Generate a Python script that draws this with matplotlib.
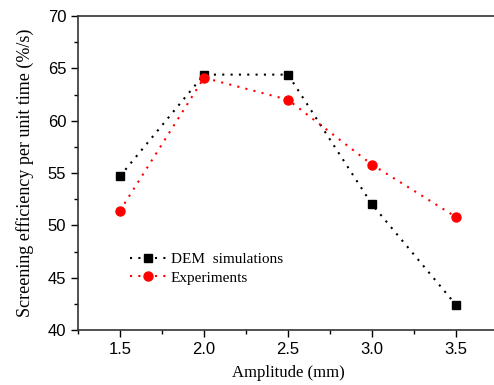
import matplotlib
matplotlib.use("Agg")
import matplotlib.pyplot as plt
from matplotlib.ticker import MultipleLocator

amplitude = [1.5, 2.0, 2.5, 3.0, 3.5]
dem_sim = [54.7, 64.4, 64.4, 52.0, 42.4]
experiments = [51.4, 64.1, 62.0, 55.8, 50.8]

fig = plt.figure(figsize=(4.94, 3.85), dpi=100)
ax = fig.add_axes([78 / 494, 1 - 330 / 385, 420 / 494, 314 / 385])

dots = (0, (1, 3))
ax.plot(amplitude, dem_sim, color="black", linestyle=dots, linewidth=1.5,
        marker="s", markersize=6, label="DEM  simulations")
ax.plot(amplitude, experiments, color="red", linestyle=dots, linewidth=1.5,
        marker="o", markersize=6.5, label="Experiments")

ax.set_xlim(1.25, 3.75)
ax.set_ylim(40, 70)
ax.xaxis.set_major_locator(MultipleLocator(0.5))
ax.xaxis.set_minor_locator(MultipleLocator(0.25))
ax.yaxis.set_major_locator(MultipleLocator(5))
ax.yaxis.set_minor_locator(MultipleLocator(2.5))
ax.tick_params(which="major", direction="out", length=5, width=1,
               labelsize=12, top=False, right=False)
ax.tick_params(which="minor", direction="out", length=3, width=1,
               top=False, right=False)
for lbl in ax.get_xticklabels() + ax.get_yticklabels():
    lbl.set_family("Liberation Sans")
ax.xaxis.set_major_formatter(plt.FuncFormatter(lambda v, p: f"{v:.1f}"))
for s in ax.spines.values():
    s.set_linewidth(1.2)
    s.set_color("#333333")

ax.set_xlabel("Amplitude (mm)", family="Liberation Serif", fontsize=12, labelpad=6)
ax.set_ylabel("Screening efficiency per unit time (%/s)", family="Liberation Serif",
              fontsize=13, labelpad=10)

ax.legend(loc="upper left", bbox_to_anchor=(0.09, 0.29), frameon=False,
          prop={"family": "Liberation Serif", "size": 11}, handlelength=2.4,
          handletextpad=0.3, labelspacing=0.3)

fig.savefig("out.png", dpi=100)
